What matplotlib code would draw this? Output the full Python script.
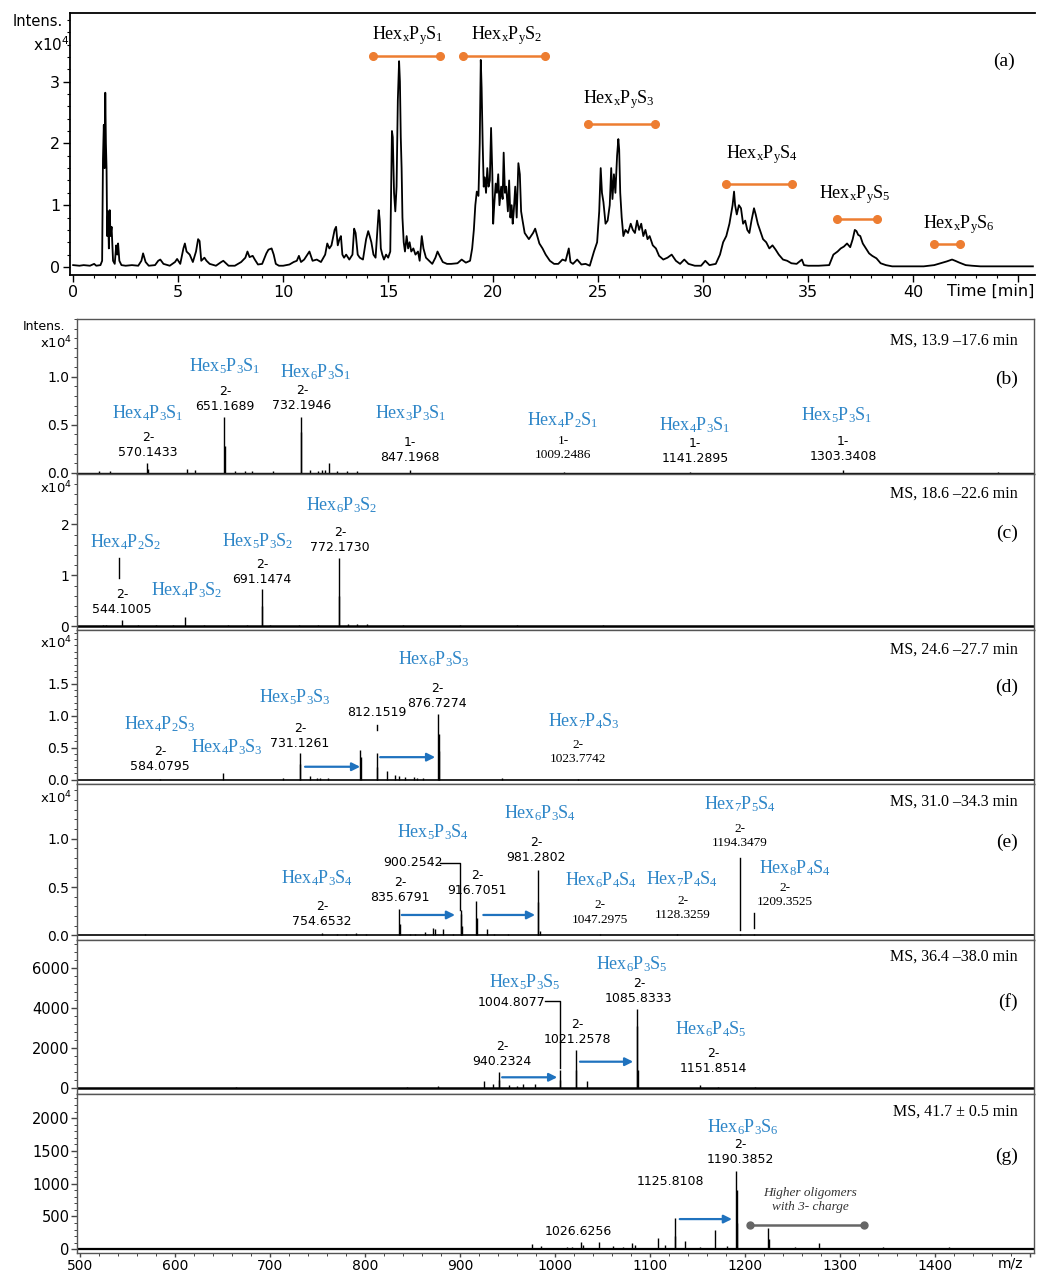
import matplotlib
matplotlib.use('Agg')
import matplotlib.pyplot as plt
from matplotlib.ticker import AutoMinorLocator, MultipleLocator

plt.rcParams['mathtext.default'] = 'regular'
plt.rcParams['font.family'] = ['DejaVu Sans']

# ---- (a) base peak chromatogram: (time [min], intensity x10^4)
tic = [(0.0, 0.03), (0.3, 0.02), (0.5, 0.03), (0.8, 0.02), (1.0, 0.05), (1.1, 0.02), (1.3, 0.03),
       (1.38, 0.1), (1.42, 1.75), (1.46, 2.3), (1.50, 1.6), (1.53, 2.82), (1.56, 2.0), (1.59, 1.6),
       (1.62, 0.5), (1.66, 0.9), (1.70, 0.3), (1.74, 0.92), (1.78, 0.5), (1.83, 0.65), (1.90, 0.1),
       (1.98, 0.05), (2.05, 0.35), (2.10, 0.2), (2.14, 0.38), (2.2, 0.1), (2.3, 0.03), (2.5, 0.02),
       (2.8, 0.03), (3.1, 0.02), (3.25, 0.1), (3.33, 0.22), (3.45, 0.08), (3.6, 0.02), (3.9, 0.03),
       (4.05, 0.1), (4.15, 0.12), (4.3, 0.05), (4.6, 0.02), (4.85, 0.08), (4.95, 0.13), (5.1, 0.05),
       (5.25, 0.3), (5.32, 0.38), (5.4, 0.25), (5.55, 0.2), (5.7, 0.08), (5.85, 0.25), (5.95, 0.45),
       (6.02, 0.42), (6.1, 0.1), (6.25, 0.15), (6.35, 0.1), (6.5, 0.05), (6.8, 0.02), (7.05, 0.08),
       (7.15, 0.1), (7.4, 0.02), (7.7, 0.02), (8.0, 0.08), (8.2, 0.15), (8.3, 0.25), (8.4, 0.16),
       (8.55, 0.18), (8.65, 0.12), (8.8, 0.04), (9.0, 0.05), (9.2, 0.22), (9.3, 0.28), (9.45, 0.3),
       (9.55, 0.2), (9.65, 0.05), (9.8, 0.02), (10.0, 0.02), (10.3, 0.04), (10.5, 0.08), (10.65, 0.1),
       (10.75, 0.18), (10.85, 0.08), (11.0, 0.12), (11.15, 0.2), (11.25, 0.25), (11.4, 0.1),
       (11.6, 0.12), (11.8, 0.08), (12.0, 0.2), (12.1, 0.38), (12.2, 0.3), (12.3, 0.35), (12.45, 0.6),
       (12.52, 0.65), (12.6, 0.35), (12.68, 0.45), (12.75, 0.5), (12.82, 0.2), (12.9, 0.15),
       (13.0, 0.2), (13.15, 0.12), (13.3, 0.2), (13.38, 0.62), (13.45, 0.55), (13.55, 0.2),
       (13.65, 0.15), (13.8, 0.12), (13.95, 0.45), (14.05, 0.58), (14.12, 0.5), (14.2, 0.4),
       (14.3, 0.2), (14.4, 0.15), (14.47, 0.5), (14.55, 0.92), (14.6, 0.75), (14.65, 0.3),
       (14.72, 0.2), (14.8, 0.12), (14.9, 0.2), (15.0, 0.15), (15.1, 0.25), (15.18, 2.2),
       (15.22, 2.1), (15.28, 1.2), (15.34, 0.9), (15.4, 1.3), (15.46, 2.7), (15.52, 3.33),
       (15.56, 3.0), (15.6, 2.1), (15.64, 1.6), (15.68, 0.8), (15.74, 0.4), (15.8, 0.25),
       (15.88, 0.5), (15.95, 0.3), (16.02, 0.4), (16.1, 0.25), (16.2, 0.3), (16.3, 0.2),
       (16.42, 0.25), (16.5, 0.1), (16.6, 0.5), (16.68, 0.3), (16.8, 0.15), (16.95, 0.1),
       (17.1, 0.05), (17.25, 0.15), (17.35, 0.25), (17.45, 0.18), (17.6, 0.08), (17.8, 0.05),
       (18.0, 0.05), (18.3, 0.06), (18.5, 0.12), (18.7, 0.07), (18.9, 0.1), (19.0, 0.3),
       (19.08, 0.6), (19.15, 1.0), (19.22, 1.22), (19.3, 1.15), (19.36, 2.0), (19.41, 3.35),
       (19.45, 2.9), (19.5, 2.0), (19.55, 1.3), (19.6, 1.45), (19.66, 1.2), (19.72, 1.6),
       (19.78, 1.3), (19.84, 1.4), (19.9, 2.25), (19.96, 1.5), (20.0, 0.7), (20.05, 1.0),
       (20.12, 1.35), (20.18, 1.2), (20.24, 1.5), (20.3, 1.0), (20.38, 1.3), (20.45, 1.1),
       (20.5, 1.85), (20.56, 1.2), (20.62, 1.3), (20.7, 0.9), (20.76, 1.4), (20.82, 0.8),
       (20.88, 1.0), (20.93, 0.7), (20.98, 0.9), (21.05, 1.3), (21.12, 0.8), (21.2, 1.68),
       (21.27, 1.5), (21.33, 0.9), (21.4, 0.75), (21.5, 0.55), (21.6, 0.5), (21.7, 0.45),
       (21.8, 0.5), (21.9, 0.55), (22.0, 0.62), (22.1, 0.5), (22.2, 0.38), (22.35, 0.3),
       (22.5, 0.2), (22.7, 0.1), (22.9, 0.05), (23.1, 0.05), (23.3, 0.12), (23.45, 0.1),
       (23.6, 0.3), (23.68, 0.08), (23.8, 0.05), (24.0, 0.12), (24.2, 0.04), (24.4, 0.05),
       (24.6, 0.02), (24.8, 0.25), (24.95, 0.4), (25.05, 0.9), (25.12, 1.6), (25.18, 1.2),
       (25.25, 1.05), (25.35, 0.7), (25.45, 0.75), (25.55, 1.0), (25.62, 1.6), (25.68, 1.1),
       (25.75, 1.5), (25.82, 1.2), (25.9, 1.8), (25.96, 2.07), (26.0, 1.9), (26.05, 1.2),
       (26.12, 0.8), (26.2, 0.5), (26.3, 0.6), (26.42, 0.55), (26.55, 0.7), (26.65, 0.6),
       (26.75, 0.55), (26.85, 0.75), (26.95, 0.6), (27.05, 0.7), (27.15, 0.5), (27.25, 0.6),
       (27.35, 0.45), (27.45, 0.5), (27.6, 0.35), (27.75, 0.3), (27.9, 0.18), (28.1, 0.12),
       (28.3, 0.15), (28.5, 0.2), (28.7, 0.1), (28.9, 0.05), (29.1, 0.12), (29.3, 0.05),
       (29.6, 0.02), (29.9, 0.02), (30.1, 0.1), (30.3, 0.03), (30.6, 0.05), (30.8, 0.2),
       (30.95, 0.4), (31.1, 0.5), (31.25, 0.7), (31.4, 1.0), (31.47, 1.22), (31.52, 1.0),
       (31.6, 0.85), (31.7, 1.0), (31.8, 0.95), (31.9, 0.7), (32.0, 0.75), (32.1, 0.6),
       (32.2, 0.55), (32.3, 0.75), (32.42, 0.95), (32.5, 0.85), (32.6, 0.7), (32.7, 0.6),
       (32.85, 0.45), (33.0, 0.4), (33.15, 0.3), (33.3, 0.35), (33.45, 0.28), (33.6, 0.2),
       (33.8, 0.12), (34.0, 0.1), (34.2, 0.06), (34.45, 0.05), (34.7, 0.12), (34.8, 0.03),
       (35.0, 0.02), (35.5, 0.02), (36.0, 0.03), (36.2, 0.2), (36.4, 0.25), (36.55, 0.3),
       (36.7, 0.33), (36.85, 0.38), (37.0, 0.32), (37.12, 0.45), (37.22, 0.6), (37.3, 0.58),
       (37.38, 0.52), (37.48, 0.5), (37.6, 0.38), (37.75, 0.3), (37.9, 0.22), (38.05, 0.18),
       (38.25, 0.14), (38.45, 0.06), (38.7, 0.03), (39.0, 0.01), (39.5, 0.01), (40.0, 0.01),
       (40.5, 0.01), (41.0, 0.03), (41.3, 0.06), (41.6, 0.09), (41.85, 0.12), (42.0, 0.1),
       (42.2, 0.07), (42.5, 0.03), (42.8, 0.02), (43.2, 0.01), (44.0, 0.01), (44.5, 0.01),
       (45.0, 0.01), (45.7, 0.01)]
tic_time = [p[0] for p in tic]
tic_int = [p[1] for p in tic]

# sulfation groups: retention window and label
group_s = [1, 2, 3, 4, 5, 6]
group_start = [14.29, 18.57, 24.52, 31.08, 36.35, 41.0]
group_end = [17.46, 22.46, 27.70, 34.25, 38.29, 42.22]
group_bar = [3.42, 3.42, 2.31, 1.35, 0.78, 0.37]
group_text = [(15.94, 3.74), (20.65, 3.74), (26.0, 2.71), (32.8, 1.82), (37.2, 1.18), (42.2, 0.68)]

# ---- mass spectra: (m/z, intensity)
peaks_b = [(519.9, 0.02), (531, 0.02), (570.14, 0.10), (570.7, 0.04), (611.9, 0.04), (620.6, 0.03),
           (651.17, 0.585), (651.7, 0.28), (662.8, 0.02), (673.3, 0.02), (680.3, 0.02), (702.4, 0.02),
           (732.19, 0.585), (732.7, 0.43), (741.7, 0.03), (750.5, 0.02), (754, 0.03), (757.5, 0.03),
           (762, 0.10), (769.8, 0.02), (780.4, 0.02), (791, 0.02), (847.2, 0.03), (1009.25, 0.01),
           (1141.29, 0.01), (1303.34, 0.03), (1466.6, 0.01)]
peaks_c = [(524, 0.03), (526.5, 0.03), (544.10, 0.12), (561, 0.02), (580, 0.02), (598, 0.02),
           (610, 0.19), (630, 0.02), (655, 0.02), (675, 0.02), (691.15, 0.73), (691.65, 0.4),
           (700, 0.03), (730, 0.02), (750, 0.02), (772.17, 1.34), (772.67, 0.6), (782, 0.05),
           (790.8, 0.05), (801.3, 0.04), (840, 0.02), (900, 0.02), (960, 0.02), (1050, 0.02)]
peaks_d = [(584.08, 0.01), (650, 0.095), (713.6, 0.03), (731.13, 0.41), (731.63, 0.25),
           (741.7, 0.06), (748.8, 0.03), (752, 0.03), (761, 0.03), (794.3, 0.46), (795.0, 0.35),
           (812.15, 0.41), (812.65, 0.2), (823.2, 0.13), (831.2, 0.07), (835, 0.05), (842, 0.04),
           (851, 0.04), (854, 0.03), (861, 0.03), (876.73, 1.03), (877.23, 0.72), (877.73, 0.45),
           (943.6, 0.02), (1023.77, 0.01)]
peaks_e = [(567.7, 0.01), (754.65, 0.03), (769.8, 0.02), (780, 0.02), (790, 0.03), (801, 0.02),
           (835.68, 0.27), (836.18, 0.12), (847, 0.02), (852, 0.02), (862.8, 0.04), (870.9, 0.08),
           (873, 0.07), (882.1, 0.07), (892, 0.02), (900.25, 0.26), (900.75, 0.22), (901.25, 0.1),
           (916.71, 0.36), (917.21, 0.18), (927.8, 0.07), (935, 0.02), (950, 0.02), (981.28, 0.68),
           (981.78, 0.35), (983.5, 0.05), (1047.3, 0.01), (1128.3, 0.01), (1194.35, 0.01),
           (1209.35, 0.01)]
peaks_f = [(560, 40), (664, 50), (765, 40), (844, 80), (877, 117), (925, 380), (934.5, 200),
           (940.23, 833), (940.73, 400), (951, 150), (960, 130), (966, 200), (978.7, 216),
           (1004.81, 917), (1005.31, 400), (1021.26, 1917), (1021.76, 900), (1033, 383),
           (1085.83, 3950), (1086.33, 3100), (1087, 900), (1151.85, 170), (1171, 60), (1210, 50),
           (1240, 40), (1350, 40)]
peaks_g = [(664, 25), (975, 77), (985, 50), (1012, 30), (1018, 35), (1026.63, 117), (1029, 60),
           (1046.5, 117), (1061, 50), (1071, 40), (1081, 90), (1084, 70), (1108.5, 168), (1115, 70),
           (1125.81, 475), (1126.31, 200), (1136.5, 132), (1152, 40), (1168.5, 296), (1181, 50),
           (1190.39, 1190), (1190.89, 900), (1191.4, 400), (1224, 322), (1224.5, 150), (1252, 40),
           (1277.5, 90), (1345, 30), (1415, 40)]

BLUE = '#2E86C8'
ARROW = '#1F72BE'
ORANGE = '#ED7D31'
SERIF = 'Liberation Serif'

W, H = 1037, 1272
fig = plt.figure(figsize=(W / 100, H / 100), dpi=100)


def add_ax(left, top, right, bottom):
    return fig.add_axes([left / W, 1 - bottom / H, (right - left) / W, (bottom - top) / H])


def hexname(h, p, s):
    return 'Hex$_{%s}$P$_{%s}$S$_{%s}$' % (h, p, s)


# ================= (a) chromatogram
ax = add_ax(70, 13, 1035, 275)
ax.plot(tic_time, tic_int, color='black', lw=1.3)
ax.set_xlim(-0.15, 45.8)
ax.set_ylim(-0.13, 4.11)
ax.spines['right'].set_visible(False)
for s in ['left', 'top', 'bottom']:
    ax.spines[s].set_linewidth(1.3)
ax.xaxis.set_major_locator(MultipleLocator(5))
ax.xaxis.set_minor_locator(MultipleLocator(1))
ax.set_xticks(range(0, 46, 5))
ax.set_xticklabels([str(v) for v in range(0, 41, 5)] + [''])
ax.set_yticks([0, 1, 2, 3])
ax.yaxis.set_minor_locator(AutoMinorLocator(5))
ax.tick_params(which='major', direction='out', length=5, width=1, labelsize=11.5, pad=2)
ax.tick_params(which='minor', direction='out', length=2.5, width=0.8)
ax.text(45.75, -0.035, 'Time [min]', transform=ax.get_xaxis_transform(), ha='right', va='top',
        fontsize=11.5)
for s, t0, t1, yb, (tx, ty) in zip(group_s, group_start, group_end, group_bar, group_text):
    ax.plot([t0, t1], [yb, yb], color=ORANGE, lw=1.8, marker='o', ms=5.5)
    ax.text(tx, ty, hexname('x', 'y', s), family=SERIF, fontsize=13, ha='center', va='center')
ax.text(44.85, 3.32, '(a)', family=SERIF, fontsize=14, ha='right', va='center')
fig.text(63 / W, 1 - 22 / H, 'Intens.', ha='right', va='center', fontsize=10.5)
fig.text(70 / W, 1 - 45 / H, 'x10$^4$', ha='right', va='center', fontsize=11)

# ================= (b)-(g) spectra
tops = [319, 474, 630, 784, 940, 1094]
bottoms = [474, 630, 784, 940, 1094, 1253]
ylims = [(-0.012, 1.60), (-0.07, 2.99), (-0.07, 2.34), (-0.047, 1.567), (-285, 7415), (-57, 2367)]
yticks = [[0, 0.5, 1.0], [0, 1, 2], [0, 0.5, 1.0, 1.5], [0, 0.5, 1.0],
          [0, 2000, 4000, 6000], [0, 500, 1000, 1500, 2000]]
yfmt = ['%.1f', '%d', '%.1f', '%.1f', '%d', '%d']
all_peaks = [peaks_b, peaks_c, peaks_d, peaks_e, peaks_f, peaks_g]
ranges = ['MS, 13.9 \u201317.6 min', 'MS, 18.6 \u201322.6 min', 'MS, 24.6 \u201327.7 min',
          'MS, 31.0 \u201334.3 min', 'MS, 36.4 \u201338.0 min', 'MS, 41.7 \u00b1 0.5 min']
letters = ['(b)', '(c)', '(d)', '(e)', '(f)', '(g)']
ms_y = [0.858, 0.872, 0.87, 0.885, 0.89, 0.889]
let_y = [0.613, 0.622, 0.63, 0.628, 0.597, 0.611]
base_lw = [1.0, 1.8, 1.2, 1.2, 1.8, 1.6]

axes = []
for i in range(6):
    a = add_ax(77, tops[i], 1034, bottoms[i])
    axes.append(a)
    pk = all_peaks[i]
    a.plot([496.4, 1504], [0, 0], color='black', lw=base_lw[i])
    a.vlines([p[0] for p in pk], 0, [p[1] for p in pk], color='black', lw=1.0)
    a.set_xlim(496.4, 1504)
    a.set_ylim(*ylims[i])
    for s in a.spines.values():
        s.set_color('#555555')
        s.set_linewidth(1.0)
    a.set_yticks(yticks[i])
    a.set_yticklabels([yfmt[i] % v for v in yticks[i]])
    a.yaxis.set_minor_locator(AutoMinorLocator(5))
    fs = 10 if i < 4 else 10.5
    a.tick_params(axis='y', which='major', direction='out', length=4, width=1, labelsize=fs,
                  pad=1.5, color='#444444')
    a.tick_params(axis='y', which='minor', direction='out', length=2, width=0.7, color='#444444')
    if i < 5:
        a.tick_params(axis='x', which='both', bottom=False, labelbottom=False)
    a.text(0.983, ms_y[i], ranges[i], transform=a.transAxes, ha='right', va='center',
           family=SERIF, fontsize=11.5)
    a.text(0.983, let_y[i], letters[i], transform=a.transAxes, ha='right', va='center',
           family=SERIF, fontsize=14)

ax_b, ax_c, ax_d, ax_e, ax_f, ax_g = axes

ax_g.set_xticks(range(500, 1501, 100))
ax_g.set_xticklabels([str(v) for v in range(500, 1401, 100)] + [''])
ax_g.xaxis.set_minor_locator(AutoMinorLocator(5))
ax_g.tick_params(axis='x', which='major', direction='out', length=3, width=1, labelsize=10,
                 pad=1, color='#444444')
ax_g.tick_params(axis='x', which='minor', direction='out', length=1.8, width=0.7, color='#444444')
ax_g.text(1479, -0.025, 'm/z', transform=ax_g.get_xaxis_transform(), ha='center', va='top',
          fontsize=10)

fig.text(65 / W, 1 - 327 / H, 'Intens.', ha='right', va='center', fontsize=9)
for yy in [343, 488, 643, 798]:
    fig.text(72 / W, 1 - yy / H, 'x10$^4$', ha='right', va='center', fontsize=9.5)


def blue(a, x, y, h, p, s):
    a.text(x, y, hexname(h, p, s), color=BLUE, family=SERIF, fontsize=13, ha='center', va='center')


def num(a, x, y, txt, serif=False):
    if serif:
        a.text(x, y, txt, family=SERIF, fontsize=9.5, ha='center', va='center', linespacing=1.25)
    else:
        a.text(x, y, txt, fontsize=9, ha='center', va='center', linespacing=1.2)


def arrow(a, x0, x1, y):
    a.annotate('', xy=(x1, y), xytext=(x0, y),
               arrowprops=dict(arrowstyle='-|>', color=ARROW, lw=1.6, mutation_scale=12,
                               shrinkA=0, shrinkB=0))


# (b)
blue(ax_b, 571, 0.62, 4, 3, 1)
num(ax_b, 571, 0.294, '2-\n570.1433')
blue(ax_b, 652.3, 1.11, 5, 3, 1)
num(ax_b, 652.3, 0.764, '2-\n651.1689')
blue(ax_b, 748.2, 1.05, 6, 3, 1)
num(ax_b, 733.3, 0.774, '2-\n732.1946')
blue(ax_b, 848, 0.62, 3, 3, 1)
num(ax_b, 847, 0.241, '1-\n847.1968')
blue(ax_b, 1008.2, 0.552, 4, 2, 1)
num(ax_b, 1008.2, 0.257, '1-\n1009.2486', serif=True)
blue(ax_b, 1147, 0.5, 4, 3, 1)
num(ax_b, 1147, 0.231, '1-\n1141.2895')
blue(ax_b, 1296.7, 0.6, 5, 3, 1)
num(ax_b, 1303, 0.25, '1-\n1303.3408')

# (c)
blue(ax_c, 548, 1.66, 4, 2, 2)
ax_c.plot([541, 541], [0.95, 1.34], color='black', lw=1.0)
num(ax_c, 544, 0.48, '2-\n544.1005')
blue(ax_c, 612.3, 0.72, 4, 3, 2)
blue(ax_c, 687, 1.68, 5, 3, 2)
num(ax_c, 691.2, 1.06, '2-\n691.1474')
blue(ax_c, 775.4, 2.38, 6, 3, 2)
num(ax_c, 773.3, 1.70, '2-\n772.1730')

# (d)
blue(ax_d, 583.8, 0.86, 4, 2, 3)
num(ax_d, 583.8, 0.316, '2-\n584.0795')
blue(ax_d, 654.4, 0.5, 4, 3, 3)
blue(ax_d, 726, 1.29, 5, 3, 3)
num(ax_d, 731.3, 0.68, '2-\n731.1261')
num(ax_d, 812.3, 1.05, '812.1519')
ax_d.plot([812.3, 812.3], [0.77, 0.86], color='black', lw=1.0)
blue(ax_d, 872.3, 1.89, 6, 3, 3)
num(ax_d, 875.5, 1.30, '2-\n876.7274')
blue(ax_d, 1030, 0.92, 7, 4, 3)
num(ax_d, 1023.9, 0.434, '2-\n1023.7742', serif=True)
arrow(ax_d, 736.5, 794.5, 0.2)
arrow(ax_d, 815.6, 873.5, 0.35)

# (e)
blue(ax_e, 749.1, 0.595, 4, 3, 4)
num(ax_e, 754.4, 0.217, '2-\n754.6532')
blue(ax_e, 871.3, 1.07, 5, 3, 4)
num(ax_e, 850.3, 0.75, '900.2542')
ax_e.plot([878.6, 899.6, 899.6], [0.747, 0.747, 0.264], color='black', lw=1.0)
num(ax_e, 836.5, 0.47, '2-\n835.6791')
num(ax_e, 917.5, 0.543, '2-\n916.7051')
blue(ax_e, 984, 1.27, 6, 3, 4)
num(ax_e, 979.7, 0.884, '2-\n981.2802')
blue(ax_e, 1048.2, 0.574, 6, 4, 4)
num(ax_e, 1047.1, 0.238, '2-\n1047.2975', serif=True)
blue(ax_e, 1133.5, 0.585, 7, 4, 4)
num(ax_e, 1134.5, 0.284, '2-\n1128.3259', serif=True)
blue(ax_e, 1194.6, 1.36, 7, 5, 4)
num(ax_e, 1194.6, 1.03, '2-\n1194.3479', serif=True)
ax_e.plot([1194.35, 1194.35], [0.057, 0.80], color='black', lw=1.0)
blue(ax_e, 1252.5, 0.70, 8, 4, 4)
num(ax_e, 1241.9, 0.42, '2-\n1209.3525', serif=True)
ax_e.plot([1209.35, 1209.35], [0.078, 0.233], color='black', lw=1.0)
arrow(ax_e, 838.3, 894.4, 0.212)
arrow(ax_e, 924.2, 978.7, 0.212)

# (f)
blue(ax_f, 968.1, 5315, 5, 3, 5)
num(ax_f, 954.4, 4315, '1004.8077')
ax_f.plot([989.3, 1005.3, 1005.3], [4365, 4365, 1000], color='black', lw=1.0)
blue(ax_f, 1080.8, 6215, 6, 3, 5)
num(ax_f, 1088, 4845, '2-\n1085.8333')
num(ax_f, 1023.4, 2805, '2-\n1021.2578')
num(ax_f, 944, 1695, '2-\n940.2324')
blue(ax_f, 1164, 2965, 6, 4, 5)
num(ax_f, 1166, 1365, '2-\n1151.8514')
arrow(ax_f, 944, 1002, 550)
arrow(ax_f, 1026, 1082, 1330)

# (g)
blue(ax_g, 1197.6, 1859, 6, 3, 6)
num(ax_g, 1194.6, 1485, '2-\n1190.3852')
num(ax_g, 1120.7, 1032, '1125.8108')
num(ax_g, 1024, 265, '1026.6256')
arrow(ax_g, 1131, 1186, 460)
ax_g.plot([1205, 1325], [372, 372], color='#666666', lw=1.8, marker='o', ms=5)
ax_g.text(1268.3, 756, 'Higher oligomers\nwith 3- charge', family=SERIF, style='italic',
          fontsize=9.5, ha='center', va='center', color='#333333', linespacing=1.2)

fig.savefig('out.png', dpi=100)
